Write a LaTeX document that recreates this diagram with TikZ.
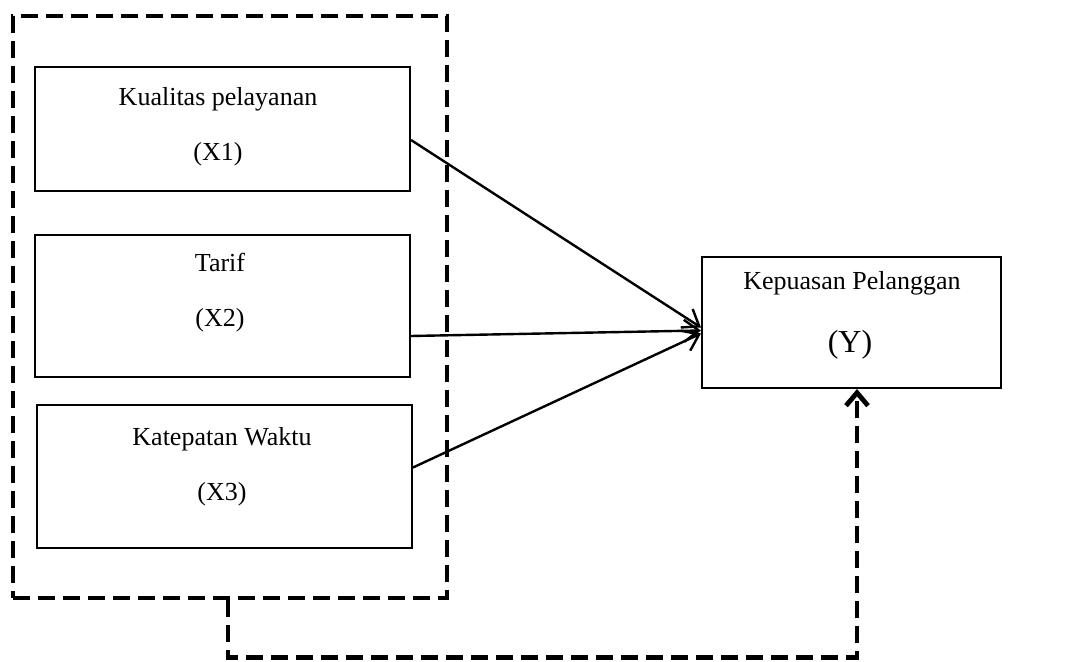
\documentclass[tikz,border=0pt]{standalone}
\usepackage{fontspec}
\setmainfont{Liberation Serif}
\usetikzlibrary{arrows.meta}

\tikzset{
  varbox/.style={draw, line width=1pt, inner sep=0pt, minimum width=187.5pt},
  varlabel/.style={align=center, font=\fontsize{13}{15.6}\selectfont},
  grouping/.style={draw, line width=2.4pt, dash pattern=on 8.5pt off 4pt},
  effect/.style={line width=1.2pt, -{Straight Barb[length=7.5pt,width=11pt,line width=1.2pt]}},
  jointeffect/.style={line width=2.4pt, dash pattern=on 8.5pt off 4pt,
    -{Straight Barb[length=6.5pt,width=11pt,line width=2.4pt]}}
}

\begin{document}
\begin{tikzpicture}[x=0.5pt,y=-0.5pt]
  \useasboundingbox (0,0) rectangle (1071,662);

  % variabel bebas
  \node[varbox, minimum height=62pt] (kualitas) at (222.5,129) {};
  \node[varbox, minimum height=71pt] (tarif) at (222.5,306) {};
  \node[varbox, minimum height=71.5pt] (ketepatan) at (224.5,476.5) {};

  \node[varlabel] (kualitaslbl) at (218,127) {Kualitas pelayanan\\[12pt](X1)};
  \node[varlabel] (tariflbl) at (220,293) {Tarif\\[12pt](X2)};
  \node[varlabel] (ketepatanlbl) at (222,467) {Katepatan Waktu\\[12pt](X3)};

  % variabel terikat
  \node[draw, line width=1pt, inner sep=0pt, minimum width=149.5pt,
        minimum height=65.5pt] (kepuasan) at (851.5,322.5) {};
  \node[varlabel] (kepuasanlbl) at (852,283) {Kepuasan Pelanggan};
  \node[font=\fontsize{16}{19}\selectfont] (ylbl) at (850,345) {(Y)};

  % kotak simultan
  \node[grouping, inner sep=0pt, minimum width=217pt, minimum height=291pt]
        (simultan) at (230,307) {};

  % pengaruh parsial
  \draw[effect] ([yshift=-5.5pt]kualitas.east) -- ([yshift=-2.5pt]kepuasan.west);
  \draw[effect] ([yshift=-15pt]tarif.east) -- ([yshift=-4pt]kepuasan.west);
  \draw[effect] ([yshift=4.5pt]ketepatan.east) -- ([yshift=-5.5pt]kepuasan.west);

  % pengaruh simultan
  \draw[jointeffect] ([xshift=-1pt]simultan.south) -- ++(0,57)
        -| ([xshift=2.75pt]kepuasan.south);
\end{tikzpicture}
\end{document}
